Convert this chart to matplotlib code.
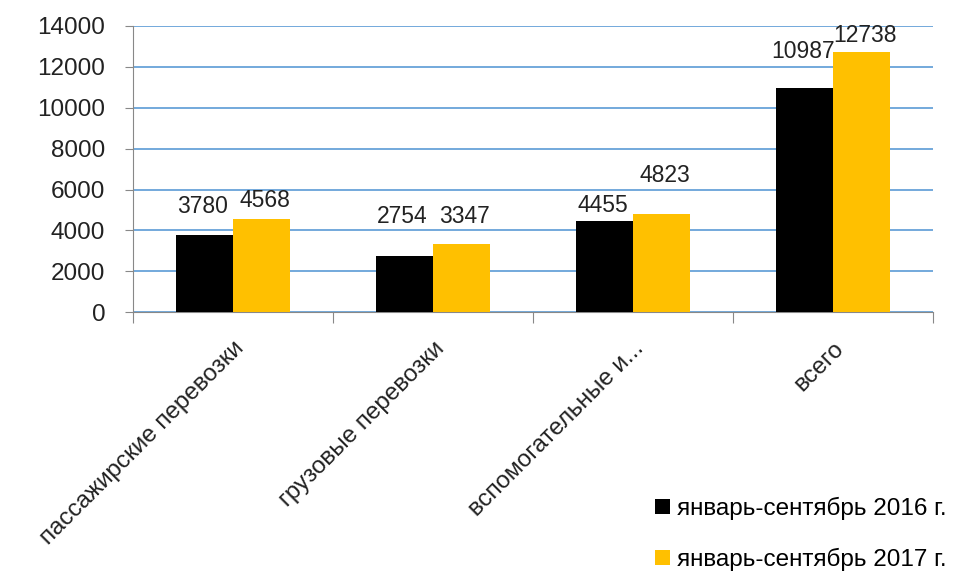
import matplotlib.pyplot as plt
import numpy as np

plt.rcParams['font.family'] = ['Liberation Sans', 'DejaVu Sans']

categories = ['пассажирские перевозки', 'грузовые перевозки', 'вспомогательные и...', 'всего']
values_2016 = [3780, 2754, 4455, 10987]
values_2017 = [4568, 3347, 4823, 12738]
series_names = ['январь-сентябрь 2016 г.', 'январь-сентябрь 2017 г.']
yticks = [0, 2000, 4000, 6000, 8000, 10000, 12000, 14000]

# label lift above bar tops, pixels (as placed in the original)
lift_2016 = [28, 39, 16, 36]
lift_2017 = [18, 27, 38, 16]

fs = 17.5

fig = plt.figure(figsize=(9.57, 5.77), dpi=100)
ax = fig.add_axes([0.139, 0.459, 0.836, 0.496])

x = np.arange(len(categories))
w = 0.285
b1 = ax.bar(x - w / 2, values_2016, w, color='black', label=series_names[0], zorder=3)
b2 = ax.bar(x + w / 2, values_2017, w, color='#FFC000', label=series_names[1], zorder=3)

for xi, v, d in zip(x - w / 2, values_2016, lift_2016):
    ax.annotate(str(v), (xi, v), xytext=(-2, d), textcoords='offset pixels',
                ha='center', va='center', fontsize=16.5, color='#222222')
for xi, v, d in zip(x + w / 2, values_2017, lift_2017):
    ax.annotate(str(v), (xi, v), xytext=(3, d), textcoords='offset pixels',
                ha='center', va='center', fontsize=16.5, color='#222222')

ax.set_xlim(-0.5, len(categories) - 0.5)
ax.set_ylim(0, 14000)
ax.set_yticks(yticks)
ax.set_yticklabels([str(t) for t in yticks], fontsize=fs, color='#222222')
ax.yaxis.grid(True, color='#5B9BD5', linewidth=1.2, zorder=0)
ax.set_axisbelow(True)
ax.tick_params(axis='y', length=6, color='#888888', pad=14)

ax.set_xticks(np.arange(-0.5, len(categories), 1.0))
ax.set_xticklabels([])
ax.tick_params(axis='x', length=8, color='#888888')
ax.set_xticks(x, minor=True)
ax.set_xticklabels(categories, minor=True, rotation=45, ha='right', va='top',
                   rotation_mode='anchor', fontsize=fs, color='#222222')
ax.tick_params(axis='x', which='minor', length=0, pad=18)

for s in ['top', 'right']:
    ax.spines[s].set_visible(False)
ax.spines['left'].set_color('#888888')
ax.spines['bottom'].set_color('#888888')

fig.legend(handles=[b1, b2], loc='lower right', bbox_to_anchor=(1.012, -0.028),
           frameon=False, fontsize=fs, handlelength=0.6, handleheight=0.6,
           handletextpad=0.3, labelspacing=1.15)

fig.savefig('out.png', dpi=100)
